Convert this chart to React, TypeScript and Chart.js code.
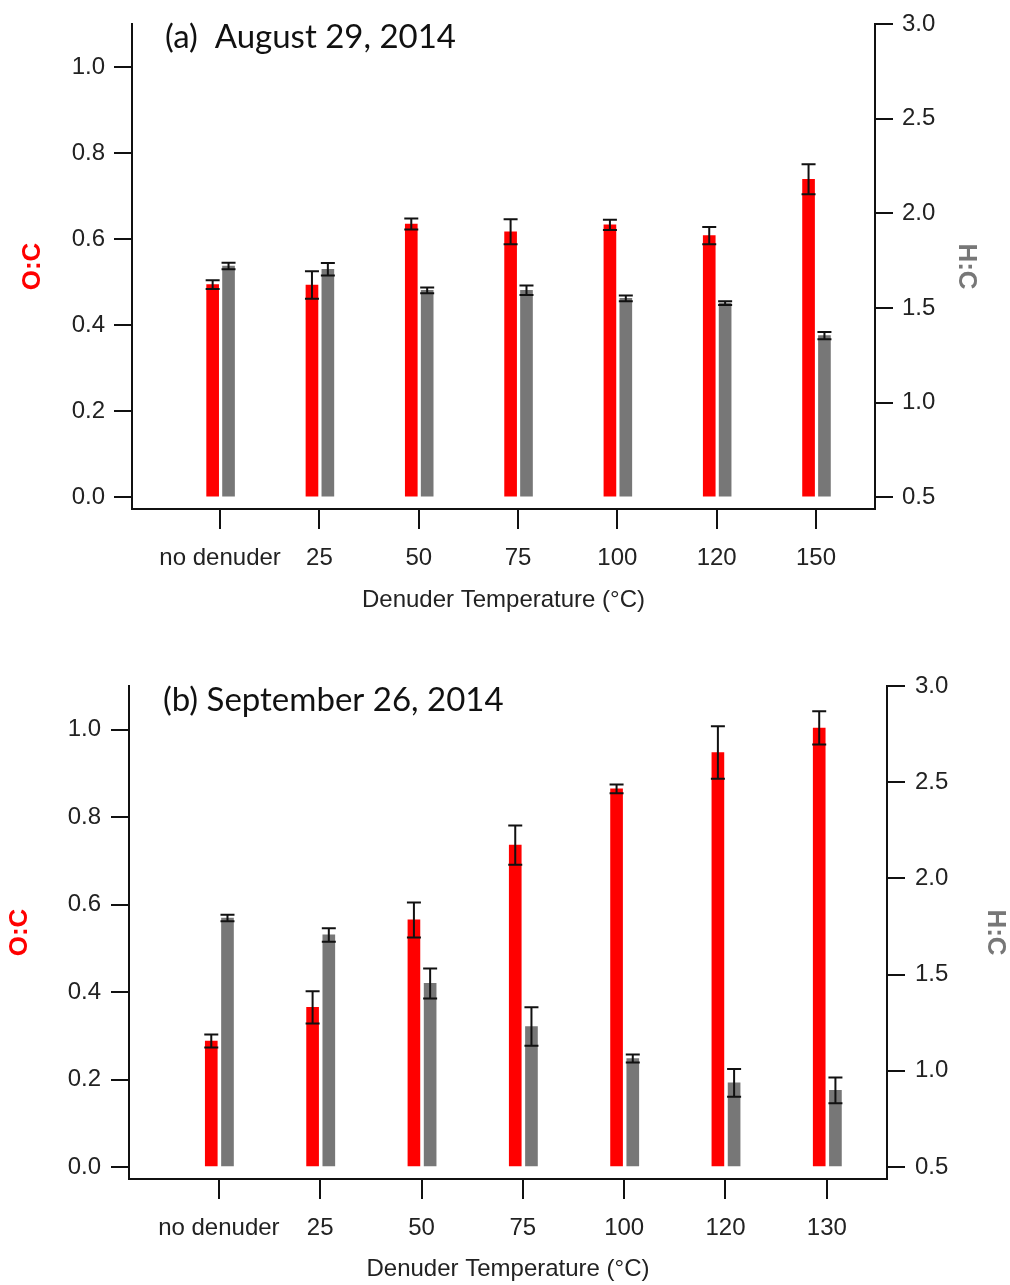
import React, { useEffect, useRef } from 'react';
import { Chart, registerables } from 'chart.js';

Chart.register(...registerables);

// ---------- data ----------
const CATS_A = ['no denuder', '25', '50', '75', '100', '120', '150'];
const OC_A = [0.494, 0.493, 0.635, 0.617, 0.633, 0.608, 0.739];
const OC_ERR_A = [0.010, 0.032, 0.013, 0.029, 0.012, 0.020, 0.035];
const HC_A = [1.721, 1.704, 1.593, 1.593, 1.550, 1.525, 1.354];
const HC_ERR_A = [0.017, 0.033, 0.015, 0.025, 0.015, 0.010, 0.019];

const CATS_B = ['no denuder', '25', '50', '75', '100', '120', '130'];
const OC_B = [0.288, 0.365, 0.565, 0.736, 0.865, 0.948, 1.004];
const OC_ERR_B = [0.015, 0.037, 0.040, 0.045, 0.010, 0.060, 0.038];
const HC_B = [1.794, 1.706, 1.454, 1.230, 1.064, 0.937, 0.898];
const HC_ERR_B = [0.017, 0.035, 0.078, 0.100, 0.021, 0.072, 0.067];

const OC_TICKS = [0, 0.2, 0.4, 0.6, 0.8, 1.0];
const HC_TICKS = [0.5, 1.0, 1.5, 2.0, 2.5, 3.0];

const TITLE_A = '(a)  August 29, 2014';
const TITLE_B = '(b) September 26, 2014';
const X_TITLE = 'Denuder Temperature (\u00B0C)';

// ---------- style ----------
const RED = '#ff0000';
const GREY = '#777777';
const INK = '#111111';
const FONT = "'Liberation Sans', Arial, sans-serif";
const W = 1010;

const errorBars = {
  id: 'errorBars',
  afterDatasetsDraw(chart: any) {
    const ctx = chart.ctx;
    chart.data.datasets.forEach((ds: any, di: number) => {
      const meta = chart.getDatasetMeta(di);
      const ys = chart.scales[ds.yAxisID];
      meta.data.forEach((el: any, i: number) => {
        const v = ds.data[i].y;
        const e = ds.errors[i];
        const yT = ys.getPixelForValue(v + e);
        const yB = ys.getPixelForValue(v - e);
        const x = el.x;
        const h = 7;
        ctx.save();
        ctx.strokeStyle = INK;
        ctx.lineWidth = 2;
        ctx.beginPath();
        ctx.moveTo(x, yT); ctx.lineTo(x, yB);
        ctx.moveTo(x - h, yT); ctx.lineTo(x + h, yT);
        ctx.moveTo(x - h, yB); ctx.lineTo(x + h, yB);
        ctx.stroke();
        ctx.restore();
      });
    });
  },
};

const panelTitle = {
  id: 'panelTitle',
  afterDraw(chart: any, _args: any, opts: any) {
    const ctx = chart.ctx;
    ctx.save();
    ctx.fillStyle = INK;
    ctx.font = opts.font;
    ctx.textAlign = 'left';
    ctx.textBaseline = 'middle';
    ctx.fillText(opts.text, opts.x, opts.y);
    ctx.restore();
  },
};

type PanelProps = {
  cats: string[]; oc: number[]; ocErr: number[]; hc: number[]; hcErr: number[];
  title: string; height: number; top: number;
  area: { left: number; right: number; top: number; bottom: number };
  titlePos: { x: number; y: number };
  xTitleY: number; ocTitleX: number; hcTitleX: number;
  yPad: number;
};

function Panel(p: PanelProps) {
  const ref = useRef<HTMLCanvasElement>(null);
  useEffect(() => {
    const RED_SHIFT = -0.075;
    const GREY_SHIFT = 0.085;
    const TITLE_HALF = 26 * 1.2 / 2;
    const chart = new Chart(ref.current as HTMLCanvasElement, {
      type: 'bar',
      data: {
        datasets: [
          {
            label: 'O:C',
            data: p.oc.map((v, i) => ({ x: i + RED_SHIFT, y: v })),
            errors: p.ocErr,
            backgroundColor: RED,
            yAxisID: 'yL',
            xAxisID: 'x',
            grouped: false,
            barThickness: 12,
            base: 0,
          } as any,
          {
            label: 'H:C',
            data: p.hc.map((v, i) => ({ x: i + GREY_SHIFT, y: v })),
            errors: p.hcErr,
            backgroundColor: GREY,
            yAxisID: 'yR',
            xAxisID: 'x',
            grouped: false,
            barThickness: 12,
            base: 0.5,
          } as any,
        ],
      },
      options: {
        responsive: false,
        animation: false,
        devicePixelRatio: 1,
        layout: { padding: { top: p.area.top, left: 0, right: 0, bottom: 0 } },
        plugins: {
          legend: { display: false },
          tooltip: { enabled: false },
          panelTitle: { text: p.title, x: p.titlePos.x, y: p.titlePos.y, font: "33px Lato, 'Open Sans', sans-serif" },
        } as any,
        scales: {
          x: {
            type: 'linear',
            position: 'bottom',
            min: -0.887,
            max: 6.594,
            offset: false,
            afterBuildTicks: (s: any) => { s.ticks = p.cats.map((_, i) => ({ value: i })); },
            afterFit: (s: any) => { s.height = p.height - p.area.bottom; },
            grid: { display: true, drawOnChartArea: false, drawTicks: true, tickLength: 20, color: INK, lineWidth: 2, offset: false },
            border: { display: true, color: INK, width: 2 },
            ticks: {
              autoSkip: false,
              maxRotation: 0,
              padding: 15,
              color: '#222',
              font: { family: FONT, size: 24 },
              callback: (v: any) => p.cats[Math.round(Number(v))] ?? '',
            },
            title: {
              display: true,
              text: X_TITLE,
              color: '#222',
              font: { family: FONT, size: 24 },
              padding: { top: 0, bottom: p.height - p.xTitleY - 14.4 },
            },
          },
          yL: {
            type: 'linear',
            position: 'left',
            min: -0.0275,
            max: 1.1,
            afterBuildTicks: (s: any) => { s.ticks = OC_TICKS.map((v) => ({ value: v })); },
            afterFit: (s: any) => { s.width = p.area.left; },
            grid: { display: true, drawOnChartArea: false, drawTicks: true, tickLength: 18, color: INK, lineWidth: 2 },
            border: { display: true, color: INK, width: 2 },
            ticks: {
              padding: p.yPad,
              color: '#222',
              font: { family: FONT, size: 24 },
              callback: (v: any) => Number(v).toFixed(1),
            },
            title: {
              display: true,
              text: 'O:C',
              color: RED,
              font: { family: FONT, size: 26, weight: 'bold' },
              padding: { top: p.ocTitleX - TITLE_HALF, bottom: 0 },
            },
          },
          yR: {
            type: 'linear',
            position: 'right',
            min: 0.4375,
            max: 3.0,
            afterBuildTicks: (s: any) => { s.ticks = HC_TICKS.map((v) => ({ value: v })); },
            afterFit: (s: any) => { s.width = W - p.area.right; },
            grid: { display: true, drawOnChartArea: false, drawTicks: true, tickLength: 18, color: INK, lineWidth: 2 },
            border: { display: true, color: INK, width: 2 },
            ticks: {
              padding: p.yPad,
              color: '#222',
              font: { family: FONT, size: 24 },
              callback: (v: any) => Number(v).toFixed(1),
            },
            title: {
              display: true,
              text: 'H:C',
              color: GREY,
              font: { family: FONT, size: 26, weight: 'bold' },
              padding: { top: W - p.hcTitleX - TITLE_HALF, bottom: 0 },
            },
          },
        } as any,
      },
      plugins: [errorBars, panelTitle] as any,
    } as any);
    return () => chart.destroy();
  }, []);
  return (
    <canvas
      ref={ref}
      width={W}
      height={p.height}
      style={{ position: 'absolute', left: 0, top: p.top, width: W, height: p.height }}
    />
  );
}

export default function App() {
  return (
    <div style={{ position: 'absolute', left: 0, top: 0, width: W, height: 1285, background: '#fff', overflow: 'hidden' }}>
      <Panel
        cats={CATS_A} oc={OC_A} ocErr={OC_ERR_A} hc={HC_A} hcErr={HC_ERR_A}
        title={TITLE_A} height={640} top={0}
        area={{ left: 132, right: 875, top: 24, bottom: 509 }}
        titlePos={{ x: 165, y: 37 }}
        xTitleY={600} ocTitleX={33} hcTitleX={966} yPad={9}
      />
      <Panel
        cats={CATS_B} oc={OC_B} ocErr={OC_ERR_B} hc={HC_B} hcErr={HC_ERR_B}
        title={TITLE_B} height={645} top={640}
        area={{ left: 129, right: 887, top: 46, bottom: 539 }}
        titlePos={{ x: 163, y: 60 }}
        xTitleY={629} ocTitleX={20} hcTitleX={995} yPad={10}
      />
    </div>
  );
}
